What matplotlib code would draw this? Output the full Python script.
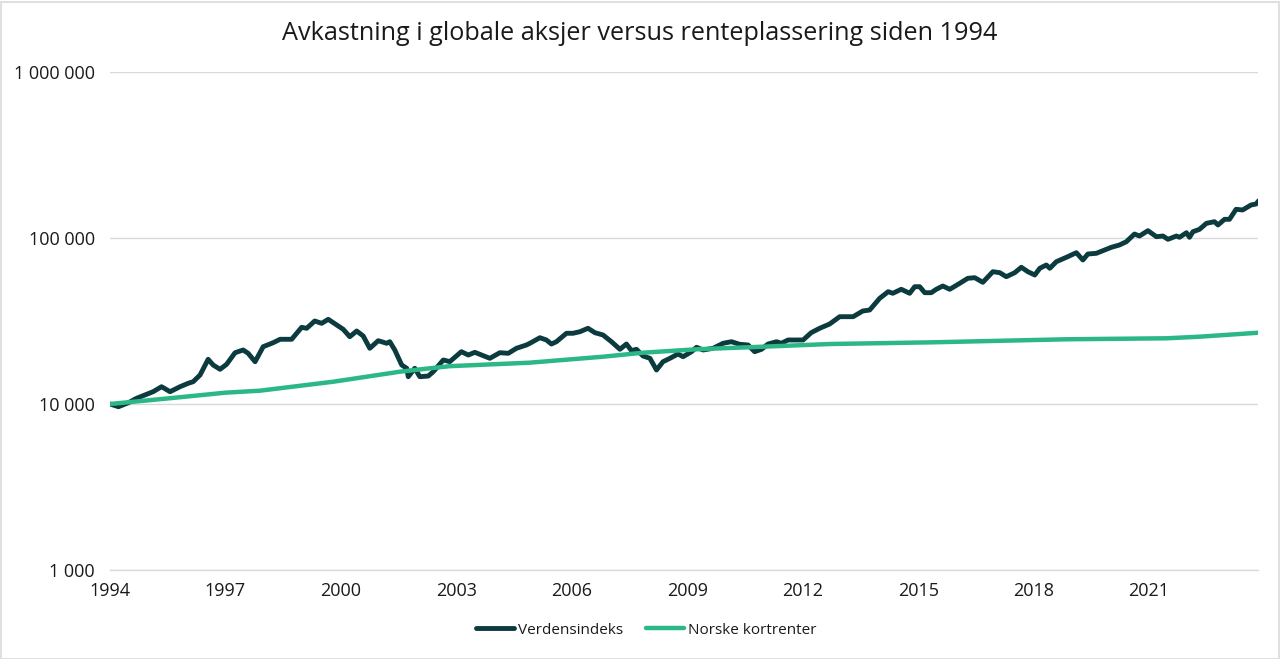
import matplotlib
matplotlib.use("Agg")
import matplotlib.pyplot as plt
from matplotlib.ticker import FixedLocator, FuncFormatter, NullLocator
from matplotlib.patches import Rectangle

# ---- data ----
world_years = [1994.00, 1994.22, 1994.48, 1994.69, 1995.12, 1995.34, 1995.56, 1995.82, 1996.03, 1996.16,
               1996.34, 1996.55, 1996.68, 1996.86, 1997.03, 1997.25, 1997.46, 1997.59, 1997.77, 1997.98,
               1998.24, 1998.42, 1998.72, 1998.98, 1999.11, 1999.32, 1999.50, 1999.67, 1999.89, 2000.06,
               2000.23, 2000.41, 2000.58, 2000.75, 2000.97, 2001.19, 2001.27, 2001.40, 2001.58, 2001.71,
               2001.75, 2001.92, 2002.05, 2002.27, 2002.40, 2002.66, 2002.83, 2003.13, 2003.31, 2003.48,
               2003.87, 2004.13, 2004.35, 2004.56, 2004.82, 2004.91, 2005.17, 2005.34, 2005.47, 2005.60,
               2005.86, 2006.03, 2006.21, 2006.42, 2006.60, 2006.81, 2007.03, 2007.25, 2007.42, 2007.55,
               2007.68, 2007.85, 2008.03, 2008.20, 2008.37, 2008.55, 2008.76, 2008.89, 2009.11, 2009.24,
               2009.41, 2009.67, 2009.93, 2010.15, 2010.36, 2010.58, 2010.75, 2010.93, 2011.10, 2011.32,
               2011.44, 2011.62, 2012.01, 2012.22, 2012.44, 2012.70, 2012.96, 2013.31, 2013.56, 2013.74,
               2014.00, 2014.22, 2014.34, 2014.56, 2014.78, 2014.91, 2015.04, 2015.17, 2015.34, 2015.47,
               2015.64, 2015.82, 2016.08, 2016.29, 2016.47, 2016.68, 2016.94, 2017.12, 2017.29, 2017.51,
               2017.68, 2017.85, 2018.03, 2018.16, 2018.33, 2018.42, 2018.59, 2018.85, 2019.11, 2019.28,
               2019.41, 2019.63, 2019.80, 2020.02, 2020.23, 2020.41, 2020.62, 2020.75, 2020.97, 2021.19,
               2021.36, 2021.49, 2021.71, 2021.79, 2021.97, 2022.05, 2022.14, 2022.31, 2022.49, 2022.70,
               2022.79, 2022.96, 2023.09, 2023.26, 2023.43, 2023.65, 2023.78, 2023.85]
world_values = [10000, 9630, 10180, 10820, 11860, 12710, 11860, 12710, 13320, 13620,
                14950, 18590, 17180, 16180, 17350, 20370, 21150, 20200, 17980, 22140,
                23400, 24540, 24540, 28970, 28580, 31620, 30620, 32370, 29910, 28180,
                25430, 27530, 25680, 21650, 24060, 23210, 23730, 21150, 17180, 16410,
                14600, 16410, 14600, 14740, 15650, 18410, 18000, 20660, 19730, 20480,
                18850, 20370, 20200, 21650, 22670, 23210, 25080, 24300, 22980, 23730,
                26670, 26670, 27260, 28580, 26890, 26050, 23730, 21360, 22980, 20950,
                21360, 19460, 18850, 16030, 17980, 18850, 20010, 19270, 20660, 21960,
                21150, 21650, 23210, 23730, 22890, 22670, 20660, 21360, 22980, 23730,
                23210, 24300, 24300, 26890, 28580, 30330, 33570, 33570, 36330, 36840,
                43320, 47490, 46450, 49090, 46450, 50890, 50890, 46830, 46830, 49090,
                51380, 49090, 53350, 57180, 57660, 54090, 62660, 61800, 58470, 61800,
                66620, 62660, 59860, 65700, 68770, 65700, 71990, 76500, 81540, 73700,
                80100, 80870, 83850, 87900, 90760, 95000, 105700, 102800, 110700, 101800,
                102800, 98200, 102800, 101000, 107600, 101000, 109100, 112800, 122600, 125400,
                119800, 129600, 129600, 148900, 147500, 158100, 160300, 167800]

rate_years = [1994.00, 1995.50, 1997.00, 1997.90, 1999.80, 2001.53, 2002.31, 2002.83, 2004.91,
              2006.81, 2007.85, 2009.24, 2010.96, 2012.70, 2015.38, 2018.85, 2021.45, 2022.31, 2023.85]
rate_values = [10000, 10800, 11700, 12030, 13620, 15650, 16410, 16900, 17740,
               19270, 20370, 21360, 22140, 22980, 23530, 24540, 24880, 25430, 26890]

series_names = ["Verdensindeks", "Norske kortrenter"]
x_ticks = [1994, 1997, 2000, 2003, 2006, 2009, 2012, 2015, 2018, 2021]
y_ticks = [1000, 10000, 100000, 1000000]
title = "Avkastning i globale aksjer versus renteplassering siden 1994"

# ---- styling ----
dark = "#0b3a3f"
green = "#2bb886"
grid_c = "#d9d9d9"
txt_c = "#1a1a1a"

plt.rcParams['font.family'] = ['Open Sans', 'DejaVu Sans']

fig = plt.figure(figsize=(12.8, 6.59), dpi=100)
ax = fig.add_axes([110/1280, 1-570/659, (1258-110)/1280, (570-72)/659])

l_world, = ax.plot(world_years, world_values, color=dark, lw=3.5, label=series_names[0], zorder=4,
                   solid_joinstyle='round', solid_capstyle='round')
l_rate, = ax.plot(rate_years, rate_values, color=green, lw=3.2, label=series_names[1], zorder=5,
                  solid_joinstyle='round', solid_capstyle='round')

ax.set_yscale('log')
ax.set_ylim(1000, 1000000)
ax.set_xlim(1994, 2023.83)
ax.yaxis.set_major_locator(FixedLocator(y_ticks))
ax.yaxis.set_minor_locator(NullLocator())
ax.yaxis.set_major_formatter(FuncFormatter(lambda v, p: f"{int(round(v)):,}".replace(",", " ")))
ax.xaxis.set_major_locator(FixedLocator(x_ticks))
ax.xaxis.set_major_formatter(FuncFormatter(lambda v, p: f"{int(round(v))}"))

ax.grid(axis='y', color=grid_c, lw=1.0)
ax.set_axisbelow(True)
for s in ['top', 'right', 'left']:
    ax.spines[s].set_visible(False)
ax.spines['bottom'].set_color(grid_c)
ax.spines['bottom'].set_linewidth(1.0)
ax.tick_params(axis='both', length=0, labelsize=13, colors=txt_c)
ax.tick_params(axis='y', pad=11)
ax.tick_params(axis='x', pad=9)

fig.text(0.5, 1-33/659, title, ha='center', va='center', fontsize=18.2, color=txt_c)

leg = fig.legend([l_world, l_rate], series_names, loc='center', bbox_to_anchor=(0.505, 1-630/659), ncol=2,
                 frameon=False, fontsize=11, handlelength=2.5, handletextpad=0.25, columnspacing=1.5)
for t in leg.get_texts():
    t.set_color(txt_c)

fig.patches.append(Rectangle((0.5/1280, 0.5/659), 1-2/1280, 1-2/659, transform=fig.transFigure,
                             fill=False, edgecolor="#d9d9d9", lw=1.2))

fig.savefig("out.png", dpi=100)
